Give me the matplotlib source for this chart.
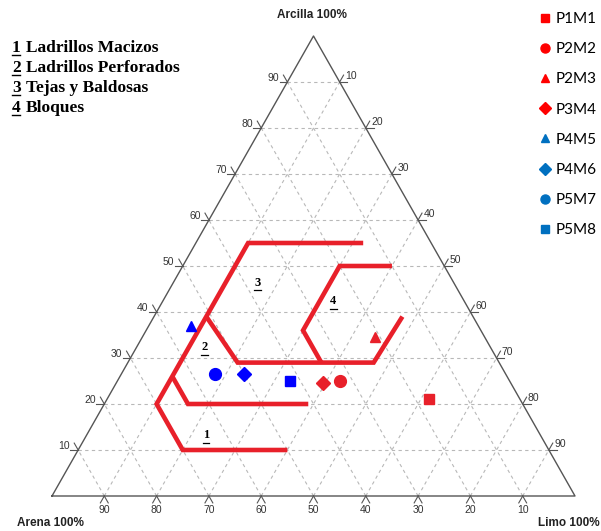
import numpy as np
import matplotlib
matplotlib.use('Agg')
import matplotlib.pyplot as plt
from matplotlib.lines import Line2D

# ---------------- data ----------------
samples = ['P1M1', 'P2M2', 'P2M3', 'P3M4', 'P4M5', 'P4M6', 'P5M7', 'P5M8']
clay = [21.0, 25.0, 34.5, 24.5, 37.0, 26.5, 26.5, 25.0]
silt = [61.5, 42.5, 44.5, 39.5, 8.0, 23.5, 18.0, 33.0]
markers = ['s', 'o', '^', 'D', '^', 'D', 'o', 's']
plot_colors = ['#E8202A'] * 4 + ['#0000FF'] * 4
legend_colors = ['#FF0000'] * 4 + ['#0070C0'] * 4

# zone boundary polylines as (clay, silt)
zone_lines = [
    [(10, 40), (10, 20), (20, 10), (55, 10), (55, 32)],
    [(26, 10), (20, 16), (20, 39)],
    [(39, 10), (29, 21), (29, 47), (39, 47.5)],
    [(50, 40), (50, 30), (36, 30), (29, 37)],
]
zone_ids = ['1', '2', '3', '4']
zone_names = ['Ladrillos Macizos', 'Ladrillos Perforados', 'Tejas y Baldosas', 'Bloques']
zone_label_clay = [13.3, 32.3, 46.4, 42.4]
zone_label_silt = [22.8, 13.0, 16.1, 32.6]

ticks = [10, 20, 30, 40, 50, 60, 70, 80, 90]
grid_levels = [10, 20, 30, 40, 50, 60, 70, 80, 90]


def tern(c, s):
    c = np.asarray(c, float)
    s = np.asarray(s, float)
    return s + c / 2.0, c


W, H = 601, 531
fig = plt.figure(figsize=(W / 100, H / 100), dpi=100)
ax = fig.add_axes([0, 0, 1, 1])
sx, sy = 5.23, 4.6
x0, y0 = 52, 496
ax.set_xlim(-x0 / sx, (W - x0) / sx)
ax.set_ylim((y0 - H) / sy, y0 / sy)
ax.axis('off')

grid_kw = dict(color='#b8b8b8', lw=0.8, ls=(0, (3, 3)), zorder=1)
for g in grid_levels:
    x, y = tern([g, g], [0, 100 - g])
    ax.plot(x, y, **grid_kw)
    x, y = tern([0, 100 - g], [g, g])
    ax.plot(x, y, **grid_kw)
    sand = g
    x, y = tern([0, 100 - sand], [100 - sand, 0])
    ax.plot(x, y, **grid_kw)

# triangle edges
tx, ty = tern([0, 0, 100, 0], [0, 100, 0, 0])
ax.plot(tx, ty, color='#555555', lw=1.0, zorder=2)

tk = dict(color='#555555', lw=0.8, zorder=2)
tl = 1.5
lab_kw = dict(fontsize=7.5, color='#333333', family='Liberation Sans')
for t in ticks:
    px, py = tern(t, 0)
    ax.plot([px, px - tl], [py, py], **tk)
    ax.plot([px, px - tl / 2], [py, py + tl], **tk)
    ax.text(px - 1.6, py + 0.9, str(t), ha='right', va='center', **lab_kw)
    px, py = tern(100 - t, t)
    ax.plot([px, px + tl], [py, py], **tk)
    ax.plot([px, px + tl / 2], [py, py + tl], **tk)
    ax.text(px + 1.0, py + 1.2, str(t), ha='left', va='center', **lab_kw)
    px, py = tern(0, 100 - t)
    ax.plot([px, px - tl / 2], [py, py - tl], **tk)
    ax.plot([px, px + tl / 2], [py, py - tl], **tk)
    ax.text(px, py - 3.1, str(t), ha='center', va='center', **lab_kw)

# zone boundaries
for line in zone_lines:
    cc = [p[0] for p in line]
    ss = [p[1] for p in line]
    x, y = tern(cc, ss)
    ax.plot(x, y, color='#E8202A', lw=3.3, solid_capstyle='butt',
            solid_joinstyle='miter', zorder=3)

# zone labels
for zid, c, s in zip(zone_ids, zone_label_clay, zone_label_silt):
    x, y = tern(c, s)
    ax.text(x, y, zid, ha='center', va='center', fontsize=9, fontweight='bold',
            family='Liberation Serif', zorder=4)
    ax.plot([x - 0.6, x + 0.6], [y - 1.7, y - 1.7], color='black', lw=0.9, zorder=4)

# samples
sizes = {'s': 7.5, 'o': 8.5, '^': 7.5, 'D': 7}
for name, c, s, m, col in zip(samples, clay, silt, markers, plot_colors):
    x, y = tern(c, s)
    ax.plot(x, y, marker=m, color=col, ms=sizes[m], ls='none', zorder=5)

# corner labels
corner_kw = dict(fontsize=8.5, fontweight='bold', family='Liberation Sans', color='#222222')
fig.text(312 / W, 1 - 15 / H, 'Arcilla 100%', ha='center', va='center', **corner_kw)
fig.text(50 / W, 1 - 523 / H, 'Arena 100%', ha='center', va='center', **corner_kw)
fig.text(600 / W, 1 - 523 / H, 'Limo 100%', ha='right', va='center', **corner_kw)

# zone legend text
fig.canvas.draw()
renderer = fig.canvas.get_renderer()
for i, (zid, zname) in enumerate(zip(zone_ids, zone_names)):
    yb = 52 + 20 * i
    t1 = fig.text(12 / W, 1 - yb / H, zid, ha='left', va='baseline', fontsize=12.5,
                  fontweight='bold', family='Liberation Serif')
    fig.text(26 / W, 1 - yb / H, zname, ha='left', va='baseline', fontsize=12.5,
             fontweight='bold', family='Liberation Serif')
    bb = t1.get_window_extent(renderer)
    fig.add_artist(Line2D([bb.x0 / W, (bb.x0 + 8) / W], [1 - (yb + 2.5) / H, 1 - (yb + 2.5) / H],
                          transform=fig.transFigure, color='black', lw=1.0))

# sample legend
handles = [Line2D([], [], marker=m, color=c, ls='none', ms=6 if m != 'o' else 6.5)
           for m, c in zip(markers, legend_colors)]
leg = fig.legend(handles, samples, loc='upper left', bbox_to_anchor=(540 / W, 1 - 12 / H),
                 frameon=False, prop={'family': 'Lato', 'size': 11},
                 handlelength=0.6, handletextpad=0.4, labelspacing=1.06,
                 borderpad=0, borderaxespad=0)

fig.savefig('out.png', dpi=100)
